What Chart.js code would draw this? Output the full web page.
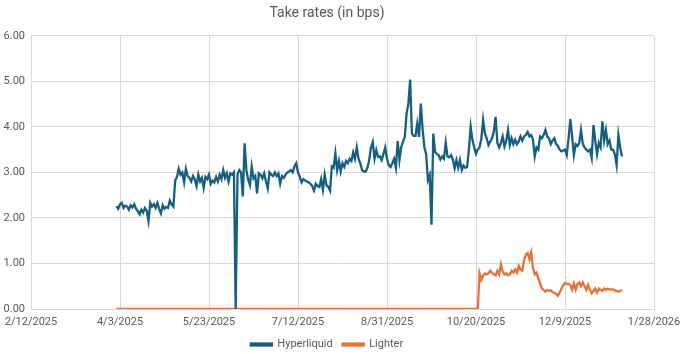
<!DOCTYPE html>
<html>
<head>
<meta charset="utf-8">
<script src="https://cdn.jsdelivr.net/npm/chart.js@4/dist/chart.umd.min.js"></script>
<style>
  html, body { margin: 0; padding: 0; background: #fff; }
  #wrap { width: 680px; height: 354px; }
</style>
</head>
<body>
<div id="wrap"><canvas id="rates" width="680" height="354"></canvas></div>
<script>
// days counted from 2/12/2025 (first tick); first data day is 4/1/2025
const firstDay = 48;

const xTickLabels = ['2/12/2025', '4/3/2025', '5/23/2025', '7/12/2025', '8/31/2025', '10/20/2025', '12/9/2025', '1/28/2026'];

// Hyperliquid take rate, daily, bps
const hyperliquid = [
  2.26, 2.20, 2.30, 2.33, 2.22, 2.27, 2.25, 2.18, 2.28, 2.23,
  2.30, 2.20, 2.15, 2.08, 2.18, 2.12, 2.22, 2.16, 1.93, 2.33,
  2.25, 2.30, 2.22, 2.33, 2.20, 2.10, 2.28, 2.20, 2.24, 2.22,
  2.38, 2.30, 2.25, 2.82, 2.90, 3.08, 2.95, 3.00, 2.78, 3.08,
  2.92, 2.88, 2.80, 2.92, 2.85, 2.70, 2.95, 2.80, 2.88, 2.66,
  2.90, 2.85, 2.95, 2.75, 2.82, 2.78, 2.90, 2.80, 2.95, 2.85,
  3.05, 2.88, 2.98, 2.80, 2.98, 2.95, 3.00, 0.00, 2.95, 3.05,
  3.00, 2.47, 3.64, 3.05, 2.84, 2.72, 3.13, 2.87, 2.92, 2.54,
  2.98, 2.95, 2.87, 2.98, 2.80, 2.65, 3.00, 2.95, 2.92, 3.00,
  2.92, 2.98, 2.75, 2.92, 2.88, 2.95, 3.00, 3.02, 3.05, 3.00,
  3.13, 3.20, 3.00, 2.90, 2.78, 2.85, 2.82, 2.80, 2.78, 2.75,
  2.70, 2.60, 2.75, 2.70, 2.68, 2.85, 2.62, 2.95, 2.72, 2.68,
  2.60, 3.13, 3.10, 3.42, 3.05, 3.25, 3.02, 3.20, 3.12, 3.25,
  3.20, 3.30, 3.25, 3.44, 3.30, 3.55, 3.30, 3.20, 3.05, 3.02,
  3.02, 3.10, 3.27, 3.55, 3.67, 3.30, 3.49, 3.34, 3.35, 3.27,
  3.40, 3.55, 3.30, 3.16, 3.12, 3.20, 3.30, 3.10, 3.69, 3.27,
  3.56, 3.67, 3.78, 4.29, 4.51, 5.04, 3.85, 3.80, 3.80, 4.07,
  3.78, 4.51, 3.95, 3.55, 3.40, 2.83, 2.94, 1.85, 3.85, 3.45,
  3.40, 3.38, 3.28, 3.35, 3.30, 3.65, 3.35, 3.33, 3.38, 3.28,
  3.09, 3.27, 3.10, 3.27, 3.05, 3.15, 3.10, 3.12, 3.49, 4.00,
  3.71, 3.55, 3.41, 3.50, 3.55, 3.74, 4.15, 3.85, 3.75, 3.60,
  3.68, 3.75, 3.90, 4.22, 3.65, 3.55, 3.65, 3.79, 3.57, 3.70,
  3.93, 3.60, 3.75, 3.62, 3.72, 3.62, 3.68, 3.79, 3.70, 3.79,
  3.82, 3.89, 3.79, 3.82, 3.72, 3.35, 3.55, 3.50, 3.79, 3.75,
  3.82, 3.93, 3.79, 3.75, 3.62, 3.70, 3.75, 3.62, 3.58, 3.50,
  3.46, 3.48, 3.50, 3.38, 3.75, 4.17, 3.79, 3.38, 3.62, 3.58,
  3.65, 3.93, 3.62, 3.55, 3.50, 3.46, 3.50, 3.32, 4.04, 3.70,
  3.40, 3.65, 3.55, 4.12, 3.70, 3.93, 3.62, 3.70, 3.50, 3.50,
  3.40, 3.16, 3.82, 3.55, 3.35
];

// Lighter take rate, daily, bps (zero until late October)
const lighter = [
  0, 0, 0, 0, 0, 0, 0, 0, 0, 0, 0, 0, 0, 0, 0, 0, 0, 0, 0, 0,
  0, 0, 0, 0, 0, 0, 0, 0, 0, 0, 0, 0, 0, 0, 0, 0, 0, 0, 0, 0,
  0, 0, 0, 0, 0, 0, 0, 0, 0, 0, 0, 0, 0, 0, 0, 0, 0, 0, 0, 0,
  0, 0, 0, 0, 0, 0, 0, 0, 0, 0, 0, 0, 0, 0, 0, 0, 0, 0, 0, 0,
  0, 0, 0, 0, 0, 0, 0, 0, 0, 0, 0, 0, 0, 0, 0, 0, 0, 0, 0, 0,
  0, 0, 0, 0, 0, 0, 0, 0, 0, 0, 0, 0, 0, 0, 0, 0, 0, 0, 0, 0,
  0, 0, 0, 0, 0, 0, 0, 0, 0, 0, 0, 0, 0, 0, 0, 0, 0, 0, 0, 0,
  0, 0, 0, 0, 0, 0, 0, 0, 0, 0, 0, 0, 0, 0, 0, 0, 0, 0, 0, 0,
  0, 0, 0, 0, 0, 0, 0, 0, 0, 0, 0, 0, 0, 0, 0, 0, 0, 0, 0, 0,
  0, 0, 0, 0, 0, 0, 0, 0, 0, 0, 0, 0, 0, 0, 0, 0, 0, 0, 0, 0,
  0, 0, 0, 0,
  0.78, 0.64, 0.74, 0.78, 0.76, 0.78, 0.84, 0.80, 0.76, 0.74,
  0.84, 0.76, 0.98, 0.82, 0.76, 0.78, 0.74, 0.76, 0.84, 0.80,
  0.87, 0.80, 0.95, 0.87, 0.84, 1.07, 1.20, 1.23, 1.09, 1.24,
  0.90, 0.76, 0.80, 0.67, 0.56, 0.45, 0.42, 0.38, 0.42, 0.40,
  0.41, 0.37, 0.35, 0.33, 0.29, 0.36, 0.45, 0.52, 0.57, 0.55,
  0.55, 0.52, 0.42, 0.56, 0.42, 0.55, 0.58, 0.50, 0.58, 0.50,
  0.42, 0.53, 0.42, 0.35, 0.40, 0.45, 0.36, 0.45, 0.42, 0.40,
  0.45, 0.42, 0.45, 0.43, 0.43, 0.43, 0.41, 0.40, 0.38, 0.40,
  0.42
];

const toPoints = arr => arr.map((v, i) => ({ x: firstDay + i, y: v }));

const textColor = '#595959';
const gridColor = '#d9d9d9';
const font = { family: 'Roboto, "Open Sans", sans-serif', size: 11 };

new Chart(document.getElementById('rates'), {
  type: 'line',
  data: {
    datasets: [
      {
        label: 'Hyperliquid',
        data: toPoints(hyperliquid),
        borderColor: '#156082',
        backgroundColor: '#156082',
        borderWidth: 2.3,
        pointRadius: 0,
        tension: 0
      },
      {
        label: 'Lighter',
        data: toPoints(lighter),
        borderColor: '#e97132',
        backgroundColor: '#e97132',
        borderWidth: 2.3,
        pointRadius: 0,
        tension: 0
      }
    ]
  },
  options: {
    responsive: false,
    animation: false,
    layout: { padding: { left: 0, right: 26, top: 0, bottom: -6 } },
    plugins: {
      title: {
        display: true,
        text: 'Take rates (in bps)',
        color: textColor,
        font: { family: font.family, size: 14, weight: 'normal' },
        padding: { top: 5, bottom: 14 }
      },
      legend: {
        position: 'bottom',
        labels: {
          color: textColor,
          font: font,
          boxWidth: 21,
          boxHeight: 2,
          padding: 10
        }
      },
      tooltip: { enabled: false }
    },
    scales: {
      x: {
        type: 'linear',
        min: 0,
        max: 350,
        ticks: {
          stepSize: 50,
          color: textColor,
          font: font,
          maxRotation: 0,
          padding: 7,
          callback: v => xTickLabels[v / 50]
        },
        grid: { color: gridColor, drawTicks: false },
        border: { color: gridColor },
        afterFit: s => { s.height = 20; s.paddingRight = 0; s.paddingLeft = 0; }
      },
      y: {
        min: 0,
        max: 6,
        ticks: {
          stepSize: 1,
          color: textColor,
          font: font,
          padding: 6,
          callback: v => v.toFixed(2)
        },
        grid: { color: gridColor, drawTicks: false },
        border: { display: false },
        afterFit: s => { s.width = 31; }
      }
    }
  }
});
</script>
</body>
</html>
